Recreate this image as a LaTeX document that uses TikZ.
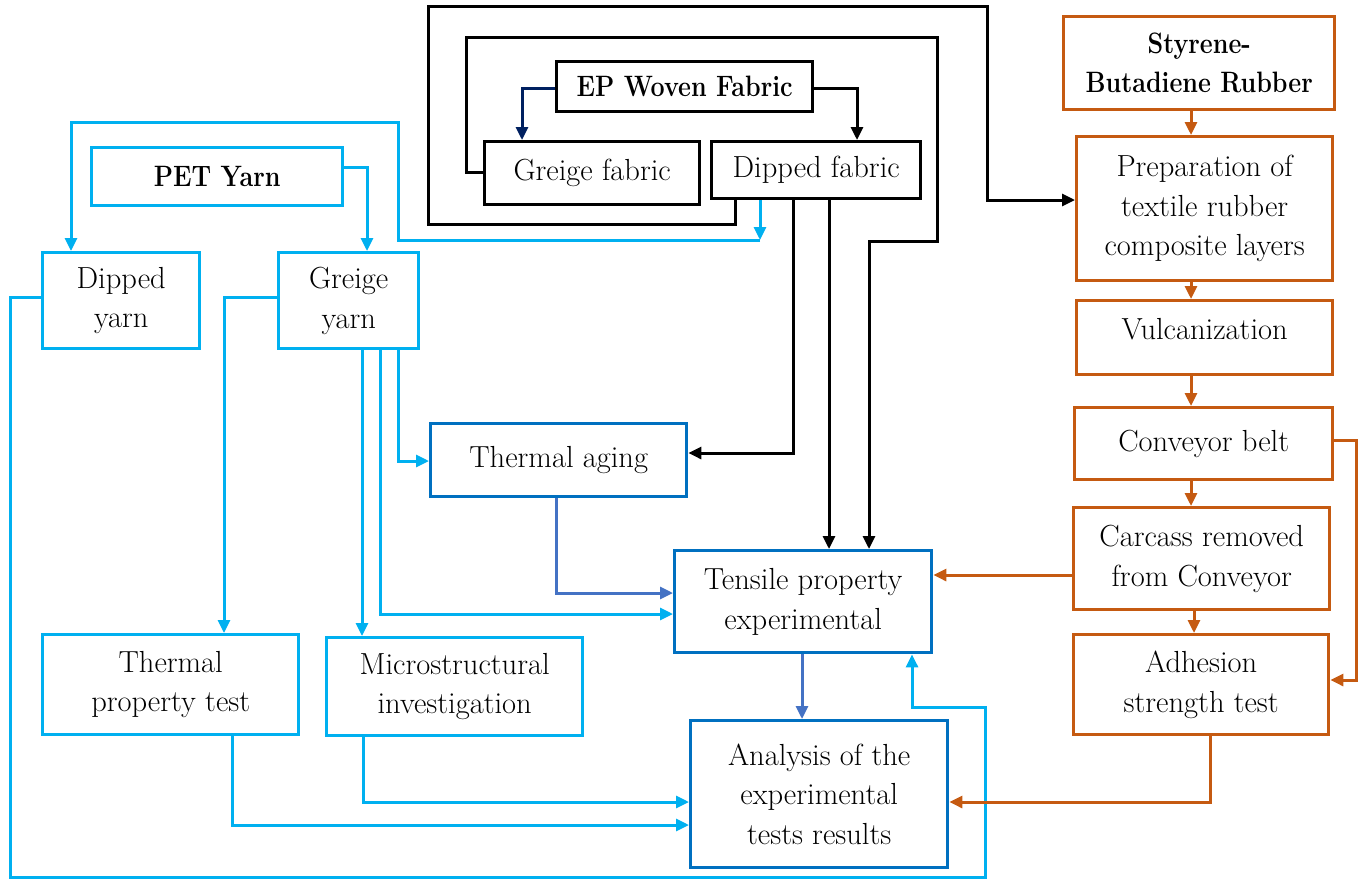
\documentclass[tikz,border=0pt]{standalone}
\usepackage{graphicx}
\usetikzlibrary{arrows.meta}
\definecolor{lb}{HTML}{00B0F0}
\definecolor{db}{HTML}{0070C0}
\definecolor{mb}{HTML}{4472C4}
\definecolor{nv}{HTML}{002060}
\definecolor{og}{HTML}{C55A11}
\newcommand\bodyfont{\fontsize{30.5}{39.5}\selectfont}
\newcommand\boldfont{\fontsize{29.5}{39}\selectfont\bfseries}
\newcommand\bt[1]{\scalebox{0.85}[1]{#1}}
\begin{document}
\begin{tikzpicture}[x=1pt,y=-1pt,
 box/.style={draw, line width=3.4pt, fill=white, align=center, inner sep=0pt, anchor=north west, font=\bodyfont},
 bbox/.style={box, font=\boldfont},
 conn/.style={line width=3pt, -{Triangle[length=13pt,width=12pt]}}
]
\useasboundingbox (0,0) rectangle (1362,879);
% black nodes
\node[bbox, minimum width=256pt, minimum height=50pt] (ep) at (555,60) {\bt{EP Woven Fabric}};
\node[box, minimum width=215pt, minimum height=63pt] (gf) at (483,140) {Greige fabric};
\node[box, minimum width=209pt, minimum height=57pt] (df) at (710,140) {Dipped fabric};
% light blue nodes
\node[bbox, draw=lb, minimum width=251pt, minimum height=58pt] (pet) at (90,146) {\bt{PET Yarn}};
\node[box, draw=lb, minimum width=157pt, minimum height=96pt] (dy) at (41,251) {Dipped\\yarn};
\node[box, draw=lb, minimum width=140pt, minimum height=96pt] (gy) at (277,251) {Greige\\yarn};
\node[box, draw=lb, minimum width=256pt, minimum height=100pt] (tpt) at (41,633) {Thermal\\property test};
\node[box, draw=lb, minimum width=256pt, minimum height=98pt] (mi) at (325,636) {Microstructural\\investigation};
% dark blue nodes
\node[box, draw=db, minimum width=256pt, minimum height=73pt] (ta) at (429,422) {Thermal aging};
\node[box, draw=db, minimum width=257pt, minimum height=102pt] (tp) at (673,549) {Tensile property\\experimental};
\node[box, draw=db, minimum width=257pt, minimum height=147pt] (an) at (689,719) {Analysis of the\\experimental\\tests results};
% orange nodes
\node[bbox, draw=og, minimum width=271pt, minimum height=93pt] (sbr) at (1062,15) {\bt{Styrene-}\\\bt{Butadiene Rubber}};
\node[box, draw=og, minimum width=256pt, minimum height=144pt] (prep) at (1075,135) {Preparation of\\textile rubber\\composite layers};
\node[box, draw=og, minimum width=256pt, minimum height=74pt, text depth=18pt] (vul) at (1075,299) {Vulcanization};
\node[box, draw=og, minimum width=258pt, minimum height=72pt] (cb) at (1073,406) {Conveyor belt};
\node[box, draw=og, minimum width=256pt, minimum height=102pt] (cr) at (1072,506) {Carcass removed\\from Conveyor};
\node[box, draw=og, minimum width=255pt, minimum height=100pt] (ad) at (1072,633) {Adhesion\\strength test};

% black connectors
\draw[conn] (735,0 |- df.south) -- (735,224) -- (428,224) -- (428,6) -- (987,6) -- (987,200) -- (prep.west |- 0,200);
\draw[conn] (gf.west |- 0,172) -- (466,172) -- (466,37) -- (937,37) -- (937,241) -- (869,241) -- (869,0 |- tp.north);
\draw[conn, nv] (ep.west |- 0,88) -- (522,88) -- (522,0 |- gf.north);
\draw[conn] (ep.east |- 0,88) -- (857,88) -- (857,0 |- df.north);
\draw[conn] (793,0 |- df.south) -- (793,453) -- (ta.east |- 0,453);
\draw[conn] (829,0 |- df.south) -- (829,0 |- tp.north);

% light blue connectors
\coordinate (dfb) at (760,240);
\draw[conn, lb] (760,0 |- df.south) -- (dfb);
\draw[conn, lb] (dfb) -- (398,240) -- (398,122) -- (71,122) -- (71,0 |- dy.north);
\draw[conn, lb] (pet.east |- 0,167) -- (367,167) -- (367,0 |- gy.north);
\draw[conn, lb] (dy.west |- 0,297) -- (10,297) -- (10,877) -- (985,877) -- (985,707) -- (912,707) -- (912,0 |- tp.south);
\draw[conn, lb] (gy.west |- 0,297) -- (224,297) -- (224,0 |- tpt.north);
\draw[conn, lb] (362,0 |- gy.south) -- (362,0 |- mi.north);
\draw[conn, lb] (380,0 |- gy.south) -- (380,614) -- (tp.west |- 0,614);
\draw[conn, lb] (398,0 |- gy.south) -- (398,461) -- (ta.west |- 0,461);
\draw[conn, lb] (232,0 |- tpt.south) -- (232,825) -- (an.west |- 0,825);
\draw[conn, lb] (363,0 |- mi.south) -- (363,802) -- (an.west |- 0,802);

% mid blue connectors
\draw[conn, mb] (556,0 |- ta.south) -- (556,593) -- (tp.west |- 0,593);
\draw[conn, mb] (802,0 |- tp.south) -- (802,0 |- an.north);

% orange connectors
\draw[conn, og] (1191,0 |- sbr.south) -- (1191,0 |- prep.north);
\draw[conn, og] (1191,0 |- prep.south) -- (1191,0 |- vul.north);
\draw[conn, og] (1191,0 |- vul.south) -- (1191,0 |- cb.north);
\draw[conn, og] (1191,0 |- cb.south) -- (1191,0 |- cr.north);
\draw[conn, og] (1194,0 |- cr.south) -- (1194,0 |- ad.north);
\draw[conn, og] (cb.east |- 0,440) -- (1356,440) -- (1356,680) -- (ad.east |- 0,680);
\draw[conn, og] (cr.west |- 0,575) -- (tp.east |- 0,575);
\draw[conn, og] (1210,0 |- ad.south) -- (1210,802) -- (an.east |- 0,802);
\end{tikzpicture}
\end{document}
